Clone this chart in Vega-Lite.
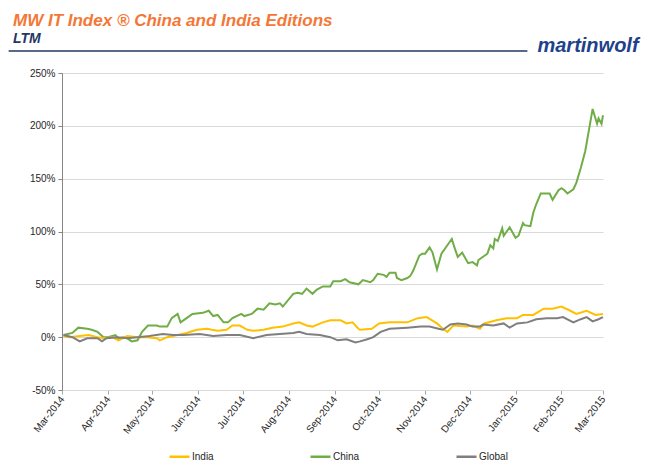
{
  "$schema": "https://vega.github.io/schema/vega-lite/v6.json",
  "width": 541,
  "height": 317,
  "autosize": {"type": "none"},
  "padding": {"left": 62, "top": 73, "right": 45, "bottom": 85},
  "background": "white",
  "config": {
    "view": {"stroke": null},
    "font": "Liberation Sans"
  },
  "title": {
    "text": "MW IT Index ® China and India Editions",
    "subtitle": "LTM",
    "anchor": "start",
    "frame": "group",
    "dx": -49,
    "offset": -11,
    "font": "Liberation Sans",
    "fontSize": 17,
    "fontWeight": "bold",
    "fontStyle": "italic",
    "color": "#F47735",
    "subtitleFont": "Liberation Sans",
    "subtitleFontSize": 14,
    "subtitleFontWeight": "bold",
    "subtitleFontStyle": "italic",
    "subtitleColor": "#1F3864",
    "subtitlePadding": 2
  },
  "datasets": {
    "series": [
      {"d": "2014-03-02", "s": "China", "v": 2},
      {"d": "2014-03-08", "s": "China", "v": 4},
      {"d": "2014-03-12", "s": "China", "v": 9},
      {"d": "2014-03-18", "s": "China", "v": 8},
      {"d": "2014-03-21", "s": "China", "v": 7},
      {"d": "2014-03-25", "s": "China", "v": 5},
      {"d": "2014-03-29", "s": "China", "v": 0},
      {"d": "2014-04-01", "s": "China", "v": 0},
      {"d": "2014-04-06", "s": "China", "v": 2},
      {"d": "2014-04-08", "s": "China", "v": -1},
      {"d": "2014-04-13", "s": "China", "v": 0},
      {"d": "2014-04-17", "s": "China", "v": -4},
      {"d": "2014-04-21", "s": "China", "v": -3},
      {"d": "2014-04-24", "s": "China", "v": 5},
      {"d": "2014-04-28", "s": "China", "v": 11},
      {"d": "2014-05-04", "s": "China", "v": 11},
      {"d": "2014-05-06", "s": "China", "v": 10},
      {"d": "2014-05-11", "s": "China", "v": 10},
      {"d": "2014-05-14", "s": "China", "v": 18},
      {"d": "2014-05-18", "s": "China", "v": 22},
      {"d": "2014-05-20", "s": "China", "v": 14},
      {"d": "2014-05-25", "s": "China", "v": 19},
      {"d": "2014-05-28", "s": "China", "v": 22},
      {"d": "2014-06-04", "s": "China", "v": 23},
      {"d": "2014-06-08", "s": "China", "v": 25},
      {"d": "2014-06-11", "s": "China", "v": 20},
      {"d": "2014-06-14", "s": "China", "v": 21},
      {"d": "2014-06-18", "s": "China", "v": 14},
      {"d": "2014-06-21", "s": "China", "v": 14},
      {"d": "2014-06-24", "s": "China", "v": 18},
      {"d": "2014-06-30", "s": "China", "v": 22},
      {"d": "2014-07-02", "s": "China", "v": 20},
      {"d": "2014-07-07", "s": "China", "v": 22},
      {"d": "2014-07-11", "s": "China", "v": 27},
      {"d": "2014-07-15", "s": "China", "v": 26},
      {"d": "2014-07-19", "s": "China", "v": 32},
      {"d": "2014-07-23", "s": "China", "v": 31},
      {"d": "2014-07-26", "s": "China", "v": 32},
      {"d": "2014-07-28", "s": "China", "v": 29},
      {"d": "2014-08-04", "s": "China", "v": 41},
      {"d": "2014-08-07", "s": "China", "v": 42},
      {"d": "2014-08-10", "s": "China", "v": 41},
      {"d": "2014-08-13", "s": "China", "v": 46},
      {"d": "2014-08-17", "s": "China", "v": 41},
      {"d": "2014-08-20", "s": "China", "v": 45},
      {"d": "2014-08-24", "s": "China", "v": 48},
      {"d": "2014-08-29", "s": "China", "v": 48},
      {"d": "2014-08-31", "s": "China", "v": 53},
      {"d": "2014-09-05", "s": "China", "v": 53},
      {"d": "2014-09-08", "s": "China", "v": 55},
      {"d": "2014-09-09", "s": "China", "v": 54},
      {"d": "2014-09-11", "s": "China", "v": 52},
      {"d": "2014-09-17", "s": "China", "v": 50},
      {"d": "2014-09-20", "s": "China", "v": 54},
      {"d": "2014-09-25", "s": "China", "v": 52},
      {"d": "2014-09-27", "s": "China", "v": 54},
      {"d": "2014-09-30", "s": "China", "v": 60},
      {"d": "2014-10-04", "s": "China", "v": 59},
      {"d": "2014-10-06", "s": "China", "v": 57},
      {"d": "2014-10-08", "s": "China", "v": 61},
      {"d": "2014-10-12", "s": "China", "v": 61},
      {"d": "2014-10-13", "s": "China", "v": 56},
      {"d": "2014-10-16", "s": "China", "v": 54},
      {"d": "2014-10-20", "s": "China", "v": 56},
      {"d": "2014-10-22", "s": "China", "v": 58},
      {"d": "2014-10-24", "s": "China", "v": 63},
      {"d": "2014-10-28", "s": "China", "v": 77},
      {"d": "2014-10-30", "s": "China", "v": 79},
      {"d": "2014-11-01", "s": "China", "v": 79},
      {"d": "2014-11-04", "s": "China", "v": 85},
      {"d": "2014-11-06", "s": "China", "v": 80},
      {"d": "2014-11-09", "s": "China", "v": 64},
      {"d": "2014-11-12", "s": "China", "v": 79},
      {"d": "2014-11-16", "s": "China", "v": 87},
      {"d": "2014-11-19", "s": "China", "v": 93},
      {"d": "2014-11-21", "s": "China", "v": 84},
      {"d": "2014-11-23", "s": "China", "v": 76},
      {"d": "2014-11-26", "s": "China", "v": 80},
      {"d": "2014-11-30", "s": "China", "v": 70},
      {"d": "2014-12-03", "s": "China", "v": 71},
      {"d": "2014-12-06", "s": "China", "v": 68},
      {"d": "2014-12-07", "s": "China", "v": 73},
      {"d": "2014-12-13", "s": "China", "v": 79},
      {"d": "2014-12-15", "s": "China", "v": 87},
      {"d": "2014-12-17", "s": "China", "v": 84},
      {"d": "2014-12-18", "s": "China", "v": 93},
      {"d": "2014-12-20", "s": "China", "v": 91},
      {"d": "2014-12-23", "s": "China", "v": 103},
      {"d": "2014-12-24", "s": "China", "v": 96},
      {"d": "2014-12-28", "s": "China", "v": 104},
      {"d": "2015-01-01", "s": "China", "v": 94},
      {"d": "2015-01-03", "s": "China", "v": 96},
      {"d": "2015-01-06", "s": "China", "v": 108},
      {"d": "2015-01-07", "s": "China", "v": 106},
      {"d": "2015-01-11", "s": "China", "v": 105},
      {"d": "2015-01-13", "s": "China", "v": 118},
      {"d": "2015-01-15", "s": "China", "v": 126},
      {"d": "2015-01-18", "s": "China", "v": 136},
      {"d": "2015-01-24", "s": "China", "v": 136},
      {"d": "2015-01-26", "s": "China", "v": 130},
      {"d": "2015-01-30", "s": "China", "v": 139},
      {"d": "2015-02-01", "s": "China", "v": 141},
      {"d": "2015-02-03", "s": "China", "v": 139},
      {"d": "2015-02-05", "s": "China", "v": 136},
      {"d": "2015-02-09", "s": "China", "v": 140},
      {"d": "2015-02-11", "s": "China", "v": 146},
      {"d": "2015-02-14", "s": "China", "v": 160},
      {"d": "2015-02-17", "s": "China", "v": 176},
      {"d": "2015-02-20", "s": "China", "v": 200},
      {"d": "2015-02-22", "s": "China", "v": 216},
      {"d": "2015-02-25", "s": "China", "v": 202},
      {"d": "2015-02-26", "s": "China", "v": 207},
      {"d": "2015-02-28", "s": "China", "v": 202},
      {"d": "2015-03-01", "s": "China", "v": 210},

      {"d": "2014-03-02", "s": "India", "v": 1},
      {"d": "2014-03-06", "s": "India", "v": 0},
      {"d": "2014-03-13", "s": "India", "v": 1},
      {"d": "2014-03-19", "s": "India", "v": 2},
      {"d": "2014-03-25", "s": "India", "v": 0},
      {"d": "2014-03-30", "s": "India", "v": -1},
      {"d": "2014-04-04", "s": "India", "v": 0},
      {"d": "2014-04-08", "s": "India", "v": -3},
      {"d": "2014-04-14", "s": "India", "v": 1},
      {"d": "2014-04-21", "s": "India", "v": 0},
      {"d": "2014-04-27", "s": "India", "v": 0},
      {"d": "2014-05-04", "s": "India", "v": -1},
      {"d": "2014-05-06", "s": "India", "v": -3},
      {"d": "2014-05-11", "s": "India", "v": 0},
      {"d": "2014-05-18", "s": "India", "v": 2},
      {"d": "2014-05-24", "s": "India", "v": 4},
      {"d": "2014-05-31", "s": "India", "v": 7},
      {"d": "2014-06-07", "s": "India", "v": 8},
      {"d": "2014-06-10", "s": "India", "v": 7},
      {"d": "2014-06-14", "s": "India", "v": 6},
      {"d": "2014-06-20", "s": "India", "v": 7},
      {"d": "2014-06-24", "s": "India", "v": 11},
      {"d": "2014-06-29", "s": "India", "v": 11},
      {"d": "2014-07-04", "s": "India", "v": 7},
      {"d": "2014-07-08", "s": "India", "v": 6},
      {"d": "2014-07-15", "s": "India", "v": 7},
      {"d": "2014-07-21", "s": "India", "v": 9},
      {"d": "2014-07-28", "s": "India", "v": 10},
      {"d": "2014-08-04", "s": "India", "v": 13},
      {"d": "2014-08-08", "s": "India", "v": 14},
      {"d": "2014-08-13", "s": "India", "v": 11},
      {"d": "2014-08-17", "s": "India", "v": 10},
      {"d": "2014-08-24", "s": "India", "v": 14},
      {"d": "2014-08-29", "s": "India", "v": 16},
      {"d": "2014-09-05", "s": "India", "v": 16},
      {"d": "2014-09-09", "s": "India", "v": 13},
      {"d": "2014-09-13", "s": "India", "v": 14},
      {"d": "2014-09-17", "s": "India", "v": 8},
      {"d": "2014-09-18", "s": "India", "v": 7},
      {"d": "2014-09-26", "s": "India", "v": 8},
      {"d": "2014-10-01", "s": "India", "v": 13},
      {"d": "2014-10-08", "s": "India", "v": 14},
      {"d": "2014-10-20", "s": "India", "v": 14},
      {"d": "2014-10-27", "s": "India", "v": 18},
      {"d": "2014-11-02", "s": "India", "v": 19},
      {"d": "2014-11-09", "s": "India", "v": 13},
      {"d": "2014-11-13", "s": "India", "v": 8},
      {"d": "2014-11-16", "s": "India", "v": 5},
      {"d": "2014-11-20", "s": "India", "v": 11},
      {"d": "2014-11-29", "s": "India", "v": 10},
      {"d": "2014-12-03", "s": "India", "v": 11},
      {"d": "2014-12-08", "s": "India", "v": 8},
      {"d": "2014-12-11", "s": "India", "v": 13},
      {"d": "2014-12-19", "s": "India", "v": 16},
      {"d": "2014-12-26", "s": "India", "v": 18},
      {"d": "2015-01-02", "s": "India", "v": 18},
      {"d": "2015-01-06", "s": "India", "v": 21},
      {"d": "2015-01-13", "s": "India", "v": 21},
      {"d": "2015-01-20", "s": "India", "v": 27},
      {"d": "2015-01-26", "s": "India", "v": 27},
      {"d": "2015-02-01", "s": "India", "v": 29},
      {"d": "2015-02-07", "s": "India", "v": 25},
      {"d": "2015-02-11", "s": "India", "v": 22},
      {"d": "2015-02-18", "s": "India", "v": 25},
      {"d": "2015-02-24", "s": "India", "v": 21},
      {"d": "2015-03-01", "s": "India", "v": 22},

      {"d": "2014-03-02", "s": "Global", "v": 2},
      {"d": "2014-03-08", "s": "Global", "v": 0},
      {"d": "2014-03-13", "s": "Global", "v": -4},
      {"d": "2014-03-18", "s": "Global", "v": -1},
      {"d": "2014-03-25", "s": "Global", "v": -1},
      {"d": "2014-03-28", "s": "Global", "v": -4},
      {"d": "2014-03-31", "s": "Global", "v": -1},
      {"d": "2014-04-07", "s": "Global", "v": 0},
      {"d": "2014-04-14", "s": "Global", "v": -1},
      {"d": "2014-04-21", "s": "Global", "v": 0},
      {"d": "2014-04-29", "s": "Global", "v": 1},
      {"d": "2014-05-08", "s": "Global", "v": 3},
      {"d": "2014-05-15", "s": "Global", "v": 2},
      {"d": "2014-05-22", "s": "Global", "v": 2},
      {"d": "2014-06-02", "s": "Global", "v": 3},
      {"d": "2014-06-11", "s": "Global", "v": 1},
      {"d": "2014-06-20", "s": "Global", "v": 2},
      {"d": "2014-06-29", "s": "Global", "v": 2},
      {"d": "2014-07-08", "s": "Global", "v": -1},
      {"d": "2014-07-17", "s": "Global", "v": 2},
      {"d": "2014-07-26", "s": "Global", "v": 3},
      {"d": "2014-08-04", "s": "Global", "v": 4},
      {"d": "2014-08-08", "s": "Global", "v": 5},
      {"d": "2014-08-13", "s": "Global", "v": 3},
      {"d": "2014-08-22", "s": "Global", "v": 2},
      {"d": "2014-08-29", "s": "Global", "v": 0},
      {"d": "2014-09-03", "s": "Global", "v": -3},
      {"d": "2014-09-09", "s": "Global", "v": -2},
      {"d": "2014-09-15", "s": "Global", "v": -5},
      {"d": "2014-09-18", "s": "Global", "v": -4},
      {"d": "2014-09-23", "s": "Global", "v": -2},
      {"d": "2014-09-27", "s": "Global", "v": 0},
      {"d": "2014-10-02", "s": "Global", "v": 5},
      {"d": "2014-10-08", "s": "Global", "v": 8},
      {"d": "2014-10-20", "s": "Global", "v": 9},
      {"d": "2014-10-29", "s": "Global", "v": 10},
      {"d": "2014-11-04", "s": "Global", "v": 10},
      {"d": "2014-11-10", "s": "Global", "v": 8},
      {"d": "2014-11-13", "s": "Global", "v": 7},
      {"d": "2014-11-18", "s": "Global", "v": 12},
      {"d": "2014-11-23", "s": "Global", "v": 13},
      {"d": "2014-11-29", "s": "Global", "v": 12},
      {"d": "2014-12-03", "s": "Global", "v": 10},
      {"d": "2014-12-08", "s": "Global", "v": 10},
      {"d": "2014-12-10", "s": "Global", "v": 12},
      {"d": "2014-12-17", "s": "Global", "v": 11},
      {"d": "2014-12-24", "s": "Global", "v": 13},
      {"d": "2014-12-28", "s": "Global", "v": 9},
      {"d": "2015-01-02", "s": "Global", "v": 13},
      {"d": "2015-01-09", "s": "Global", "v": 14},
      {"d": "2015-01-15", "s": "Global", "v": 17},
      {"d": "2015-01-22", "s": "Global", "v": 18},
      {"d": "2015-01-29", "s": "Global", "v": 18},
      {"d": "2015-02-02", "s": "Global", "v": 19},
      {"d": "2015-02-09", "s": "Global", "v": 14},
      {"d": "2015-02-14", "s": "Global", "v": 17},
      {"d": "2015-02-18", "s": "Global", "v": 19},
      {"d": "2015-02-22", "s": "Global", "v": 15},
      {"d": "2015-02-26", "s": "Global", "v": 17},
      {"d": "2015-03-01", "s": "Global", "v": 19}
    ],
    "one": [{}]
  },
  "layer": [
    {
      "data": {"name": "series"},
      "mark": {"type": "line", "strokeWidth": 2, "interpolate": "linear"},
      "encoding": {
        "x": {
          "field": "d",
          "type": "temporal",
          "scale": {"type": "utc", "domain": [{"year": 2014, "month": 3, "date": 1, "utc": true}, {"year": 2015, "month": 3, "date": 1, "utc": true}]},
          "axis": {
            "title": null,
            "labelExpr": "utcFormat(datum.value, '%b-%Y')",
            "tickCount": {"interval": "month", "step": 1},
            "labelAngle": -52,
            "labelFontSize": 10,
            "labelColor": "#262626",
            "labelFont": "Liberation Sans",
            "labelPadding": 3,
            "labelOverlap": false,
            "grid": false,
            "domainColor": "#D9D9D9",
            "tickColor": "#A6A6A6",
            "tickSize": 4
          }
        },
        "y": {
          "field": "v",
          "type": "quantitative",
          "scale": {"domain": [-50, 250], "nice": false, "zero": false},
          "axis": {
            "title": null,
            "values": [-50, 0, 50, 100, 150, 200, 250],
            "labelExpr": "datum.value + '%'",
            "labelFontSize": 10,
            "labelColor": "#262626",
            "labelFont": "Liberation Sans",
            "labelPadding": 3,
            "grid": true,
            "gridColor": "#D9D9D9",
            "domainColor": "#868686",
            "tickColor": "#868686",
            "tickSize": 4
          }
        },
        "color": {
          "field": "s",
          "type": "nominal",
          "scale": {"domain": ["India", "China", "Global"], "range": ["#FFC000", "#70AD47", "#7F7F7F"]},
          "legend": {
            "title": null,
            "orient": "none",
            "legendX": 106,
            "legendY": 372,
            "direction": "horizontal",
            "symbolType": "stroke",
            "symbolSize": 400,
            "symbolStrokeWidth": 2.5,
            "labelFontSize": 10,
            "labelFont": "Liberation Sans",
            "labelColor": "#262626",
            "labelOffset": 1,
            "columnPadding": 91
          }
        }
      }
    },
    {
      "data": {"name": "one"},
      "mark": {"type": "rule", "color": "#1F3864", "strokeWidth": 1.5},
      "encoding": {
        "x": {"datum": {"year": 2014, "month": 1, "date": 24, "utc": true}, "type": "temporal"},
        "x2": {"datum": {"year": 2015, "month": 1, "date": 9, "utc": true}},
        "y": {"datum": 270.75, "type": "quantitative"}
      }
    },
    {
      "data": {"name": "one"},
      "mark": {"type": "text", "text": "martinwolf", "align": "right", "baseline": "alphabetic", "font": "Liberation Sans", "fontSize": 20, "fontWeight": "bold", "fontStyle": "italic", "color": "#1E428A"},
      "encoding": {
        "x": {"datum": {"year": 2015, "month": 3, "date": 25, "utc": true}, "type": "temporal"},
        "y": {"datum": 270.2, "type": "quantitative"}
      }
    }
  ]
}
